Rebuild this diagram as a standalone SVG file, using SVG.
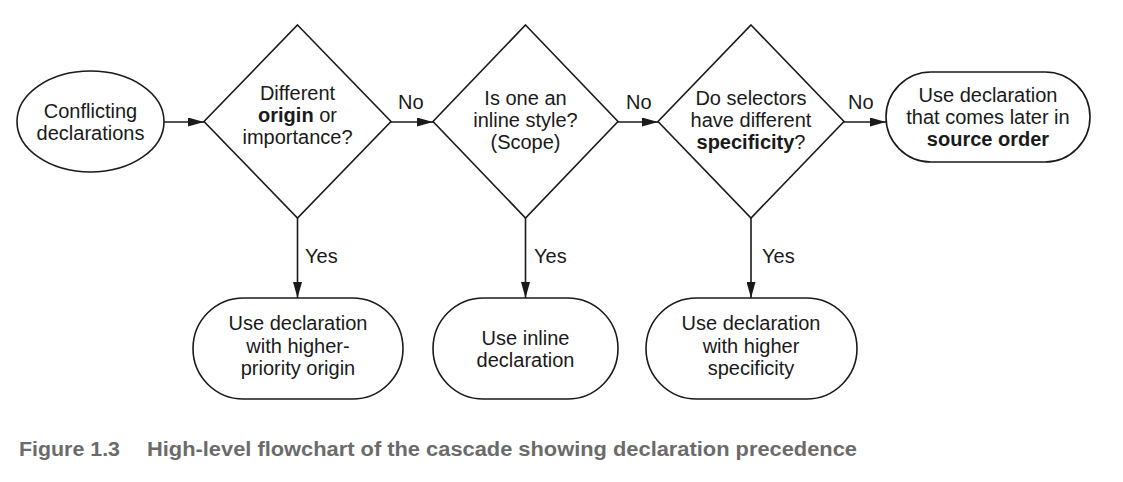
<svg xmlns="http://www.w3.org/2000/svg" width="1123" height="482" viewBox="0 0 1123 482">
<defs>
<style>
.shape{fill:#fff;stroke:#1a1a1a;stroke-width:1.6}
.edge{fill:none;stroke:#1a1a1a;stroke-width:1.6}
text{font-family:"Liberation Sans",Arial,sans-serif;font-size:20px;fill:#1a1a1a}
.c{text-anchor:middle}
.b{font-weight:bold}
.cap{font-family:"Liberation Sans",Arial,sans-serif;font-weight:bold;font-size:20px;fill:#6b6b6b}
</style>
<marker id="arr" viewBox="0 0 16 9" refX="16" refY="4.5" markerWidth="16" markerHeight="9" markerUnits="userSpaceOnUse" orient="auto">
<path d="M0,0 L16,4.5 L0,9 Z" fill="#1a1a1a"/>
</marker>
</defs>
<rect width="1123" height="482" fill="#fff"/>
<g id="connectors">
<line class="edge" x1="164" y1="122" x2="204" y2="122" marker-end="url(#arr)"/>
<line class="edge" x1="391" y1="122" x2="433" y2="122" marker-end="url(#arr)"/>
<line class="edge" x1="618" y1="122" x2="658" y2="122" marker-end="url(#arr)"/>
<line class="edge" x1="844" y1="122" x2="886" y2="122" marker-end="url(#arr)"/>
<line class="edge" x1="297.5" y1="218" x2="297.5" y2="298" marker-end="url(#arr)"/>
<line class="edge" x1="525.5" y1="218" x2="525.5" y2="298" marker-end="url(#arr)"/>
<line class="edge" x1="751" y1="218" x2="751" y2="298" marker-end="url(#arr)"/>
<text x="398" y="109">No</text>
<text x="626" y="109">No</text>
<text x="848" y="109">No</text>
<text x="305" y="263">Yes</text>
<text x="534" y="263">Yes</text>
<text x="762" y="263">Yes</text>
</g>
<g id="start">
<ellipse class="shape" cx="90.5" cy="121.5" rx="73.5" ry="50.5"/>
<text class="c" x="90.5" y="118">Conflicting</text>
<text class="c" x="90.5" y="140">declarations</text>
</g>
<g id="q-origin">
<polygon class="shape" points="297.5,25 391,121.5 297.5,218 204,121.5"/>
<text class="c" x="297.5" y="100">Different</text>
<text class="c" x="297.5" y="122"><tspan class="b">origin</tspan> or</text>
<text class="c" x="297.5" y="144">importance?</text>
</g>
<g id="q-inline">
<polygon class="shape" points="525.5,25 618,121.5 525.5,218 433,121.5"/>
<text class="c" x="525.5" y="105">Is one an</text>
<text class="c" x="525.5" y="127">inline style?</text>
<text class="c" x="525.5" y="149">(Scope)</text>
</g>
<g id="q-specificity">
<polygon class="shape" points="751,25 844,121.5 751,218 658,121.5"/>
<text class="c" x="751" y="105">Do selectors</text>
<text class="c" x="751" y="127">have different</text>
<text class="c" x="751" y="149"><tspan class="b">specificity</tspan>?</text>
</g>
<g id="source-order">
<rect class="shape" x="886" y="72" width="204" height="90" rx="45" ry="45"/>
<text class="c" x="988" y="102">Use declaration</text>
<text class="c" x="988" y="124">that comes later in</text>
<text class="c b" x="988" y="146">source order</text>
</g>
<g id="higher-origin">
<rect class="shape" x="193" y="298" width="210" height="101" rx="50.5" ry="50.5"/>
<text class="c" x="298" y="330">Use declaration</text>
<text class="c" x="298" y="352.5">with higher-</text>
<text class="c" x="298" y="375">priority origin</text>
</g>
<g id="inline-decl">
<rect class="shape" x="433" y="298" width="185" height="101" rx="50.5" ry="50.5"/>
<text class="c" x="525.5" y="345">Use inline</text>
<text class="c" x="525.5" y="367">declaration</text>
</g>
<g id="higher-specificity">
<rect class="shape" x="646" y="298" width="211" height="101" rx="50.5" ry="50.5"/>
<text class="c" x="751" y="330">Use declaration</text>
<text class="c" x="751" y="352.5">with higher</text>
<text class="c" x="751" y="375">specificity</text>
</g>
<g id="caption">
<text class="cap" x="19" y="456" textLength="101" lengthAdjust="spacingAndGlyphs">Figure 1.3</text>
<text class="cap" x="147" y="456" textLength="710" lengthAdjust="spacingAndGlyphs">High-level flowchart of the cascade showing declaration precedence</text>
</g>
</svg>
